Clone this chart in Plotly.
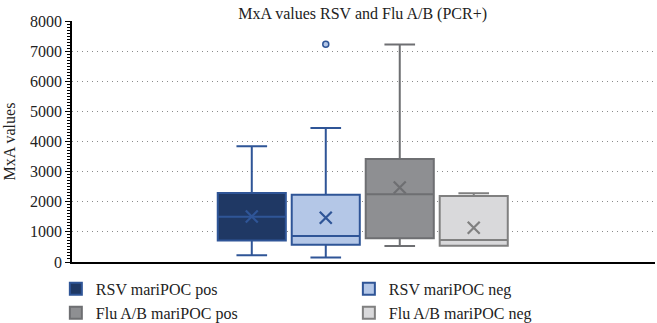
import plotly.graph_objects as go

# ---- data ----
series = ["RSV mariPOC pos", "RSV mariPOC neg", "Flu A/B mariPOC pos", "Flu A/B mariPOC neg"]
lower_whisker = [220, 150, 530, 540]
q1_values = [715, 575, 785, 540]
median_values = [1500, 860, 2245, 730]
q3_values = [2290, 2230, 3420, 2190]
upper_whisker = [3840, 4450, 7220, 2280]
mean_values = [1510, 1470, 2470, 1140]
outlier_series = ["RSV mariPOC neg"]
outlier_values = [7230]
y_ticks = [0, 1000, 2000, 3000, 4000, 5000, 6000, 7000, 8000]

# ---- styles ----
fill_colors = ["#1F3864", "#B4C7E7", "#8E8F92", "#D9D9DB"]
line_colors = ["#2F5597", "#2F5597", "#6E6F72", "#808080"]
legend_of = ["legend", "legend2", "legend", "legend2"]
FONT = "Liberation Serif"
TXT = "#222222"

fig = go.Figure()
for i, name in enumerate(series):
    fig.add_trace(go.Box(
        name=name,
        x=[name],
        q1=[q1_values[i]],
        median=[median_values[i]],
        q3=[q3_values[i]],
        lowerfence=[lower_whisker[i]],
        upperfence=[upper_whisker[i]],
        fillcolor=fill_colors[i],
        line=dict(color=line_colors[i], width=2),
        width=0.92,
        whiskerwidth=0.45,
        boxpoints=False,
        hoverinfo="skip",
        legend=legend_of[i],
    ))

# mean markers
fig.add_trace(go.Scatter(
    x=series, y=mean_values, mode="markers", showlegend=False,
    marker=dict(symbol="x-thin-open", size=12, color=line_colors,
                line=dict(color=line_colors, width=2.2)),
    hoverinfo="skip",
))

# outliers
for s, v in zip(outlier_series, outlier_values):
    idx = series.index(s)
    fig.add_trace(go.Scatter(
        x=[s], y=[v], mode="markers", showlegend=False,
        marker=dict(symbol="circle", size=6, color=fill_colors[idx],
                    line=dict(color=line_colors[idx], width=1.5)),
        hoverinfo="skip",
    ))

legend_common = dict(orientation="h", xref="container", yref="container",
                     xanchor="left", yanchor="top", tracegroupgap=0,
                     entrywidth=280, entrywidthmode="pixels",
                     font=dict(family=FONT, size=16, color=TXT),
                     traceorder="normal", itemclick=False, bgcolor="rgba(0,0,0,0)")

fig.update_layout(
    width=657, height=323,
    margin=dict(l=72, r=2, t=21, b=61),
    paper_bgcolor="white", plot_bgcolor="white",
    font=dict(family=FONT, size=16, color=TXT),
    title=dict(text="MxA values RSV and Flu A/B (PCR+)", x=0.552, xanchor="center",
               y=0.975, yanchor="top", font=dict(family=FONT, size=16, color=TXT)),
    showlegend=True,
    legend=dict(x=0.085, y=0.158, **legend_common),
    legend2=dict(x=0.531, y=0.158, **legend_common),
    xaxis=dict(type="category", categoryorder="array", categoryarray=series,
               range=[-2.43, 5.45], showticklabels=False, ticks="",
               showline=True, linecolor="black", linewidth=1.5,
               showgrid=False, zeroline=False, fixedrange=True),
    yaxis=dict(range=[0, 8000], tickvals=y_ticks, ticktext=[str(t) for t in y_ticks],
               ticks="outside", ticklen=5, tickcolor="black",
               showline=True, linecolor="black", linewidth=1.5,
               showgrid=True, gridcolor="#8A8A8A", griddash="1px,4px", gridwidth=1,
               zeroline=False,
               minor=dict(dtick=100, ticks="outside", ticklen=3, tickcolor="black", showgrid=False),
               tickfont=dict(family=FONT, size=16, color=TXT),
               title=dict(text="MxA values", font=dict(family=FONT, size=16, color=TXT),
                          standoff=10)),
)

fig.write_html("out.html")
